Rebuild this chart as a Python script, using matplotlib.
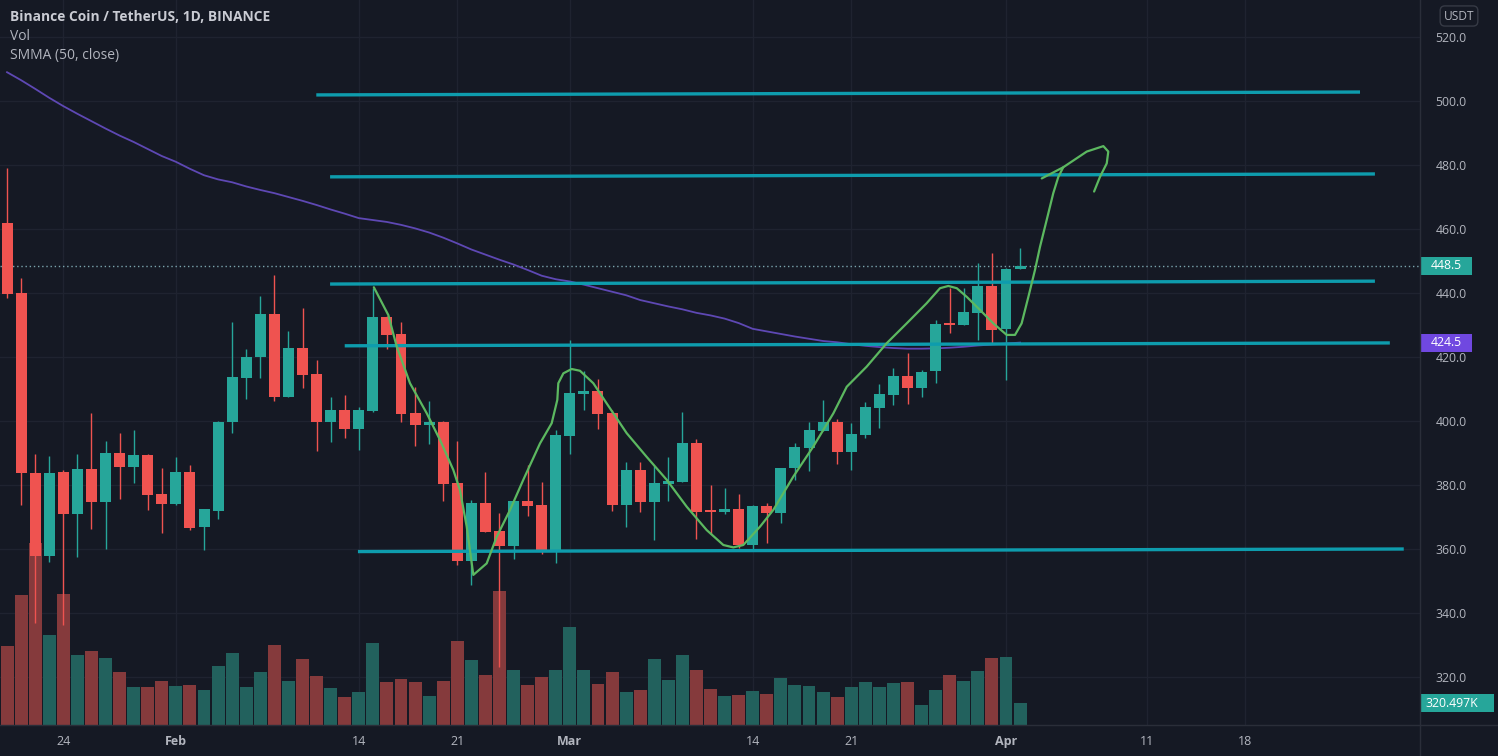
import numpy as np
import pandas as pd
import matplotlib
matplotlib.use('Agg')
import matplotlib.pyplot as plt
import matplotlib.transforms as mtransforms
from matplotlib.patches import Rectangle
from matplotlib.lines import Line2D

plt.rcParams['font.family'] = ['Open Sans', 'DejaVu Sans']

# ---------------- data ----------------
dates = pd.date_range('2022-01-20', '2022-04-02', freq='D')

opens = [462.0, 439.9, 383.9, 357.8, 384.2, 370.9, 385.0, 374.8, 390.1, 385.7,
         389.4, 377.2, 374.1, 384.2, 367.0, 372.0, 399.8, 413.4, 420.0, 433.4,
         407.6, 422.7, 414.7, 399.8, 403.4, 397.5, 403.1, 432.6, 427.2, 402.4,
         398.8, 399.8, 380.5, 356.4, 374.4, 365.7, 360.9, 375.1, 373.75, 359.7,
         395.3, 408.4, 409.5, 402.6, 373.75, 384.7, 374.6, 380.3, 381.0, 393.0,
         372.2, 371.6, 372.4, 361.25, 373.4, 371.4, 385.2, 391.7, 397.0, 399.8,
         390.4, 395.6, 404.0, 408.1, 414.1, 410.2, 415.7, 430.5, 430.0, 433.8,
         442.2, 428.7, 447.6]
highs = [479.0, 444.6, 389.7, 389.1, 384.6, 389.7, 402.4, 393.9, 396.2, 397.2,
         389.6, 385.2, 388.6, 386.3, 372.6, 400.0, 431.0, 422.5, 439.1, 445.6,
         428.1, 435.2, 419.1, 407.4, 408.1, 404.5, 441.6, 432.8, 431.0, 410.7,
         406.4, 400.0, 393.9, 375.3, 384.0, 371.4, 375.3, 386.3, 381.0, 397.2,
         425.3, 415.7, 413.0, 403.4, 387.3, 387.3, 385.9, 388.9, 402.9, 394.3,
         380.0, 379.0, 377.2, 373.6, 374.5, 385.4, 393.2, 399.8, 406.6, 400.5,
         399.5, 406.0, 411.6, 416.5, 421.4, 415.9, 431.6, 441.5, 441.5, 449.5,
         452.4, 447.7, 454.0]
lows = [438.3, 373.8, 337.0, 356.0, 336.2, 357.4, 366.1, 359.9, 375.5, 380.5,
        372.2, 365.1, 373.8, 365.9, 359.7, 369.3, 396.2, 407.0, 413.3, 406.4,
        407.4, 410.2, 390.7, 393.3, 394.8, 391.0, 402.9, 422.4, 399.8, 392.2,
        392.8, 375.1, 355.0, 348.8, 365.2, 323.2, 356.8, 370.3, 358.4, 355.5,
        389.7, 403.3, 397.4, 372.0, 367.0, 371.7, 362.8, 375.1, 381.0, 363.0,
        364.7, 370.9, 360.2, 359.7, 361.8, 368.0, 381.6, 384.5, 397.0, 386.6,
        384.7, 394.6, 397.7, 405.0, 405.3, 407.6, 411.8, 427.6, 430.0, 425.3,
        424.5, 412.8, 447.4]
closes = [439.7, 383.6, 357.8, 383.9, 370.9, 385.0, 374.8, 390.1, 385.7, 389.4,
          376.9, 374.1, 384.2, 366.5, 372.4, 399.8, 413.7, 420.0, 433.4, 407.6,
          422.7, 414.5, 399.8, 403.4, 397.5, 403.4, 432.6, 426.9, 402.2, 398.8,
          399.8, 380.3, 356.4, 374.3, 365.4, 360.9, 375.1, 373.4, 359.7, 395.6,
          408.6, 409.4, 402.2, 373.75, 384.7, 374.6, 380.5, 381.4, 393.0, 371.7,
          371.6, 372.4, 361.25, 373.4, 371.4, 385.2, 391.8, 397.2, 399.8, 390.4,
          395.9, 404.5, 408.4, 414.1, 410.2, 415.4, 430.2, 429.9, 434.0, 442.2,
          428.4, 447.4, 448.5]
volumes_k = [1151, 1894, 2652, 1311, 1909, 1020, 1078, 972, 772, 554,
             554, 641, 568, 583, 510, 860, 1045, 554, 772, 1166,
             641, 962, 714, 539, 408, 476, 1195, 622, 670, 627,
             423, 641, 1228, 947, 724, 1952, 801, 578, 695, 797,
             1423, 806, 602, 777, 476, 514, 966, 660, 1024, 806,
             529, 427, 441, 491, 456, 689, 587, 573, 485, 412,
             558, 631, 558, 616, 631, 296, 514, 733, 645, 791,
             981, 995, 320.497]
smma50 = [509.0, 506.5, 503.8, 501.0, 498.4, 496.0, 493.7, 491.4, 489.2, 487.2,
          485.0, 482.8, 481.0, 478.8, 476.8, 475.5, 474.6, 473.3, 472.2, 471.2,
          470.0, 468.8, 467.5, 466.1, 464.8, 463.4, 462.8, 462.2, 461.3, 460.2,
          458.9, 457.3, 455.5, 453.6, 452.0, 450.4, 448.9, 447.2, 445.4, 444.3,
          443.6, 442.6, 441.5, 440.4, 439.3, 437.8, 436.8, 435.8, 434.9, 433.8,
          433.0, 432.0, 430.6, 428.8, 428.0, 427.2, 426.4, 425.7, 425.0, 424.6,
          424.0, 423.5, 423.1, 422.8, 422.6, 422.6, 422.7, 422.9, 423.2, 423.6,
          423.9, 424.2, 424.5]

# x-axis tick labels
tick_dates = ['2022-01-24', '2022-02-01', '2022-02-14', '2022-02-21', '2022-03-01',
              '2022-03-14', '2022-03-21', '2022-04-01', '2022-04-11', '2022-04-18']
tick_labels = ['24', 'Feb', '14', '21', 'Mar', '14', '21', 'Apr', '11', '18']
price_ticks = [320, 340, 360, 380, 400, 420, 440, 460, 480, 500, 520]

# drawn horizontal levels: (start day, end day, start price, end price), days from 2022-01-24
levels = [(17.98, 92.16, 501.9, 502.8),
          (18.96, 93.22, 476.3, 477.2),
          (18.96, 93.22, 442.8, 443.7),
          (20.0, 94.28, 423.5, 424.4),
          (20.94, 95.27, 359.2, 360.0)]

# hand-drawn green path (days from 2022-01-24, price)
path1_day = [22.07, 23.10, 23.70, 24.64, 25.83, 26.77, 27.72, 28.19, 28.67, 28.90, 29.14,
             30.09, 30.80, 31.75, 32.69, 33.88, 34.71, 35.11, 35.18, 35.54, 36.13, 36.72,
             37.67, 38.62, 40.04, 41.46, 42.89, 44.31, 45.73, 46.91, 47.62, 48.33, 49.52,
             50.46, 51.88, 53.30, 54.73, 55.68, 57.10, 58.52, 59.94, 61.36, 62.31, 62.90,
             63.50, 64.21, 65.15, 66.10, 67.05, 67.64, 68.11, 68.59, 69.06, 69.42, 69.89,
             70.36, 70.72, 71.07]
path1_price = [441.8, 433.1, 423.2, 411.8, 402.4, 394.1, 384.7, 378.4, 367.0, 359.7, 351.9,
               355.5, 363.8, 372.2, 381.6, 393.0, 399.3, 406.6, 411.8, 414.9, 416.25, 415.7,
               411.8, 405.5, 396.2, 388.8, 381.6, 373.2, 365.9, 361.25, 360.5, 361.25, 367.0,
               372.2, 382.6, 392.0, 402.4, 410.7, 417.0, 424.3, 430.5, 436.8, 441.5, 442.2,
               441.5, 438.8, 434.7, 430.5, 426.9, 426.9, 430.5, 438.8, 447.2, 454.5, 462.8,
               471.2, 476.3, 479.3]
path2_day = [69.54, 71.07, 72.74, 73.92, 74.27, 74.16, 73.68, 73.26]
path2_price = [475.8, 479.3, 484.2, 485.9, 484.2, 480.5, 476.3, 471.7]

# ---------------- styling / layout ----------------
W, H = 1498, 756
BG = '#151924'
GRID = '#1f2330'
TXT = '#b2b5be'
UP, DOWN = '#26a69a', '#ef5350'
UP_VOL, DOWN_VOL = '#22615d', '#853a3c'
LEVEL = '#0e9cad'
PATH = '#5cb860'
SMMA_C = '#5e48b4'
SMMA_TAG = '#7048e0'

PLOT_W, PLOT_H, PLOT_B = 1420, 725, 31
PX_PER_DAY = 14.07
X0 = -4.5
X1 = X0 + PLOT_W / PX_PER_DAY
Y0, Y1 = 305.0, 531.5625
VOL_FRAC = 182 / 725.0

base = pd.Timestamp('2022-01-24')
x = np.asarray((dates - base).days, dtype=float)
o = np.array(opens); h = np.array(highs); l = np.array(lows); c = np.array(closes)
up = c >= o
cols = np.where(up, UP, DOWN)
vcols = np.where(up, UP_VOL, DOWN_VOL)
tick_x = [(pd.Timestamp(t) - base).days for t in tick_dates]

fig = plt.figure(figsize=(W / 100, H / 100), dpi=100)
fig.patch.set_facecolor(BG)
rect = [0, PLOT_B / H, PLOT_W / W, PLOT_H / H]
axv = fig.add_axes(rect)
ax = fig.add_axes(rect, sharex=axv)
axv.set_facecolor(BG)
ax.patch.set_visible(False)

ax.set_xlim(X0, X1)
ax.set_ylim(Y0, Y1)
axv.set_ylim(0, max(volumes_k) / VOL_FRAC)

# grid (behind volume)
for tx in tick_x:
    axv.axvline(tx, color=GRID, lw=1, zorder=0)
gtrans = mtransforms.blended_transform_factory(axv.transAxes, ax.transData)
for p in price_ticks:
    axv.add_artist(Line2D([0, 1], [p, p], transform=gtrans, color=GRID, lw=1, zorder=0))

# volume
axv.bar(x, volumes_k, width=0.92, color=vcols, zorder=2)

# candles
ax.vlines(x, l, h, colors=cols, lw=1, zorder=3)
body = np.maximum(np.abs(c - o), 0.35)
ax.bar(x, body, bottom=np.minimum(o, c), width=0.78, color=cols, zorder=4)

# SMMA
ax.plot(x, smma50, color=SMMA_C, lw=1.3, zorder=3.5)

# last price dotted line
ax.axhline(closes[-1], color='#7aa4ad', lw=1, ls=(0, (1, 2)), zorder=2.5)

# drawn levels
for xs, xe, ps, pe in levels:
    ax.plot([xs, xe], [ps, pe], color=LEVEL, lw=2.4, solid_capstyle='butt', zorder=6)

# drawn path
ax.plot(path1_day, path1_price, color=PATH, lw=1.6, zorder=7, solid_capstyle='round', solid_joinstyle='round')
ax.plot(path2_day, path2_price, color=PATH, lw=1.6, zorder=7, solid_capstyle='round', solid_joinstyle='round')

# axes styling
for a in (ax, axv):
    for s in a.spines.values():
        s.set_visible(False)
axv.set_yticks([])
axv.tick_params(axis='x', length=0, labelbottom=False)
ax.yaxis.tick_right()
ax.set_yticks(price_ticks)
ax.set_yticklabels([f'{p:.1f}' for p in price_ticks])
ax.tick_params(axis='y', length=0, pad=11, labelcolor=TXT, labelsize=8.8)
ax.set_xticks(tick_x)
ax.set_xticklabels(tick_labels)
ax.tick_params(axis='x', length=0, pad=7, labelcolor=TXT, labelsize=9.0)
for lab in ax.get_xticklabels():
    if lab.get_text() in ('Feb', 'Mar', 'Apr'):
        lab.set_fontweight('bold')

# separators
fig.add_artist(Line2D([PLOT_W / W] * 2, [0, 1], color='#2a2e39', lw=1))
fig.add_artist(Line2D([0, 1], [PLOT_B / H] * 2, color='#2a2e39', lw=1))

# header
fig.text(10 / W, 1 - 17 / H, 'Binance Coin / TetherUS, 1D, BINANCE', color='#c9cbd3',
         fontsize=9.9, fontweight='bold', va='center', ha='left')
fig.text(10 / W, 1 - 37 / H, 'Vol', color=TXT, fontsize=10, va='center', ha='left')
fig.text(10 / W, 1 - 56 / H, 'SMMA (50, close)', color=TXT, fontsize=10, va='center', ha='left')

# axis tags
ident = mtransforms.IdentityTransform()

def tag(axis, value, text, face, width):
    yd = axis.transData.transform((0, value))[1]
    fig.add_artist(Rectangle((PLOT_W, yd - 9), width, 18, transform=ident,
                             facecolor=face, edgecolor='none'))
    fig.text(PLOT_W + 11 if width < 60 else PLOT_W + 5, yd, text, transform=ident,
             color='white', fontsize=8.8, va='center', ha='left')

tag(ax, closes[-1], f'{closes[-1]:.1f}', UP, 52)
tag(ax, smma50[-1], f'{smma50[-1]:.1f}', SMMA_TAG, 52)
tag(axv, volumes_k[-1], f'{volumes_k[-1]:.3f}K', UP, 74)

fig.text(1459, H - 16, 'USDT', transform=ident, color=TXT, fontsize=8.6, ha='center', va='center',
         bbox=dict(boxstyle='round,pad=0.3,rounding_size=0.4', facecolor=BG, edgecolor='#363a45', lw=1))

fig.savefig('out.png', dpi=100, facecolor=BG)
